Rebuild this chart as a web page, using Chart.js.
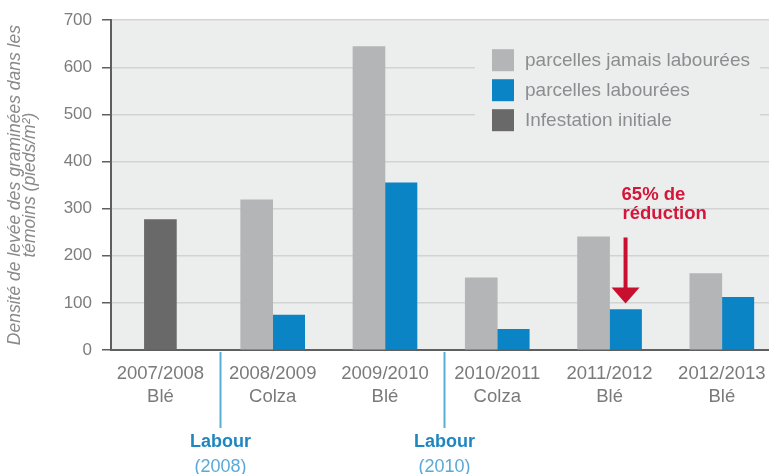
<!DOCTYPE html>
<html>
<head>
<meta charset="utf-8">
<script src="https://cdn.jsdelivr.net/npm/chart.js@4.4.1/dist/chart.umd.min.js"></script>
<style>
  html, body { margin: 0; padding: 0; background: #fff; overflow: hidden; }
  #wrap { width: 769px; height: 474px; }
</style>
</head>
<body>
<div id="wrap"><canvas id="chart" width="769" height="474"></canvas></div>
<script>
// seasons and crop of each season
const seasons = ['2007/2008', '2008/2009', '2009/2010', '2010/2011', '2011/2012', '2012/2013'];
const crops = ['Blé', 'Colza', 'Blé', 'Colza', 'Blé', 'Blé'];

// grass weed density (plants/m²)
const neverPloughed = [null, 319, 644, 153, 240, 162];
const ploughed = [null, 74, 355, 44, 86, 112];
const initialInfestation = [277, null, null, null, null, null];

const seriesNames = ['parcelles jamais labourées', 'parcelles labourées', 'Infestation initiale'];
const seriesColors = ['#b4b5b6', '#0b84c6', '#69696a'];

// ploughing happened after these seasons
const ploughAfter = [0, 2];
const ploughYears = ['(2008)', '(2010)'];

const yMax = 700;
const yStep = 100;

const FONT = "'Liberation Sans', Arial, sans-serif";

const toPoints = vals => vals.map((v, i) => ({ x: i, y: v }));

// grey background of the plot area
const plotBackground = {
    id: 'plotBackground',
    beforeDraw(chart) {
        const { ctx, chartArea: a } = chart;
        ctx.save();
        ctx.fillStyle = '#eceeee';
        ctx.fillRect(a.left, a.top, a.right - a.left, a.bottom - a.top);
        ctx.restore();
    }
};

// legend box sitting inside the plot, top right
const insideLegend = {
    id: 'insideLegend',
    beforeDatasetsDraw(chart) {
        const { ctx, chartArea: a } = chart;
        ctx.save();
        ctx.fillStyle = '#eceeee';
        ctx.fillRect(a.right - 294, a.top + 8, 285, 124);
        ctx.font = '19px ' + FONT;
        ctx.textBaseline = 'middle';
        chart.data.datasets.forEach((ds, i) => {
            const y = a.top + 29 + i * 30;
            ctx.fillStyle = ds.backgroundColor;
            ctx.fillRect(a.right - 277, y, 22, 22);
            ctx.fillStyle = '#8b8d8f';
            ctx.fillText(ds.label, a.right - 244, y + 12);
        });
        ctx.restore();
    }
};

// red arrow on the 2011/2012 ploughed bar
const reductionNote = {
    id: 'reductionNote',
    afterDatasetsDraw(chart) {
        const bar = chart.getDatasetMeta(1).data[4];
        if (!bar) return;
        const { ctx } = chart;
        const x = bar.x;
        const tip = bar.y - 6;
        ctx.save();
        ctx.strokeStyle = '#c8102e';
        ctx.fillStyle = '#c8102e';
        ctx.lineWidth = 4;
        ctx.beginPath();
        ctx.moveTo(x, tip - 66);
        ctx.lineTo(x, tip - 14);
        ctx.stroke();
        ctx.beginPath();
        ctx.moveTo(x - 14, tip - 16);
        ctx.lineTo(x + 14, tip - 16);
        ctx.lineTo(x, tip);
        ctx.closePath();
        ctx.fill();
        ctx.fillStyle = '#d3163a';
        ctx.font = 'bold 18.5px ' + FONT;
        ctx.textBaseline = 'middle';
        ctx.fillText('65% de', x - 4, tip - 109);
        ctx.fillText('réduction', x - 3, tip - 90);
        ctx.restore();
    }
};

// "Labour" markers under the x axis
const ploughMarks = {
    id: 'ploughMarks',
    afterDraw(chart) {
        const { ctx, chartArea: a } = chart;
        const xs = chart.scales.x;
        ctx.save();
        ploughAfter.forEach((idx, i) => {
            const x = Math.round(xs.getPixelForValue(idx + 0.53)) + 0.5;
            ctx.strokeStyle = '#5aaed3';
            ctx.lineWidth = 2;
            ctx.beginPath();
            ctx.moveTo(x, a.bottom + 2);
            ctx.lineTo(x, a.bottom + 78);
            ctx.stroke();
            ctx.textAlign = 'center';
            ctx.textBaseline = 'middle';
            ctx.fillStyle = '#1f86c0';
            ctx.font = 'bold 18px ' + FONT;
            ctx.fillText('Labour', x, a.bottom + 92);
            ctx.fillStyle = '#5ba9d6';
            ctx.font = '18px ' + FONT;
            ctx.fillText(ploughYears[i], x, a.bottom + 117);
        });
        ctx.restore();
    }
};

const ctx = document.getElementById('chart').getContext('2d');
new Chart(ctx, {
    type: 'bar',
    data: {
        datasets: [
            { label: seriesNames[0], data: toPoints(neverPloughed), backgroundColor: seriesColors[0] },
            { label: seriesNames[1], data: toPoints(ploughed), backgroundColor: seriesColors[1] },
            { label: seriesNames[2], data: toPoints(initialInfestation), backgroundColor: seriesColors[2] }
        ]
    },
    options: {
        responsive: false,
        animation: false,
        devicePixelRatio: 1,
        skipNull: true,
        barThickness: 32,
        layout: { padding: { top: 15, right: 0, bottom: 0, left: 0 } },
        plugins: {
            legend: { display: false },
            tooltip: { enabled: false }
        },
        scales: {
            x: {
                type: 'linear',
                min: -0.44,
                max: 5.42,
                offset: false,
                afterFit: s => { s.height = 124; },
                grid: { display: true, color: 'transparent', drawTicks: true, tickLength: 10, offset: false },
                border: { display: true, color: '#5f5f5f', width: 2 },
                ticks: {
                    stepSize: 1,
                    includeBounds: false,
                    autoSkip: false,
                    maxRotation: 0,
                    padding: 2,
                    color: '#7a7a7a',
                    font: { family: FONT, size: 18.5, lineHeight: 1.27 },
                    callback: v => (Number.isInteger(v) && seasons[v]) ? [seasons[v], crops[v]] : ''
                }
            },
            y: {
                min: 0,
                max: yMax,
                afterFit: s => { s.width = 111; },
                grid: { color: '#d2d4d4', lineWidth: 1.5, tickColor: '#5f5f5f', tickLength: 9 },
                border: { display: true, color: '#5f5f5f', width: 2 },
                ticks: {
                    stepSize: yStep,
                    padding: 10,
                    color: '#7d7d7d',
                    font: { family: FONT, size: 17 }
                },
                title: {
                    display: true,
                    text: ['Densité de levée des graminées dans les', 'témoins (pieds/m²)'],
                    color: '#8a8a8a',
                    padding: { top: 7, bottom: 0 },
                    font: { family: FONT, size: 17.5, style: 'italic', lineHeight: 0.88 }
                }
            }
        }
    },
    plugins: [plotBackground, insideLegend, reductionNote, ploughMarks]
});
</script>
</body>
</html>
